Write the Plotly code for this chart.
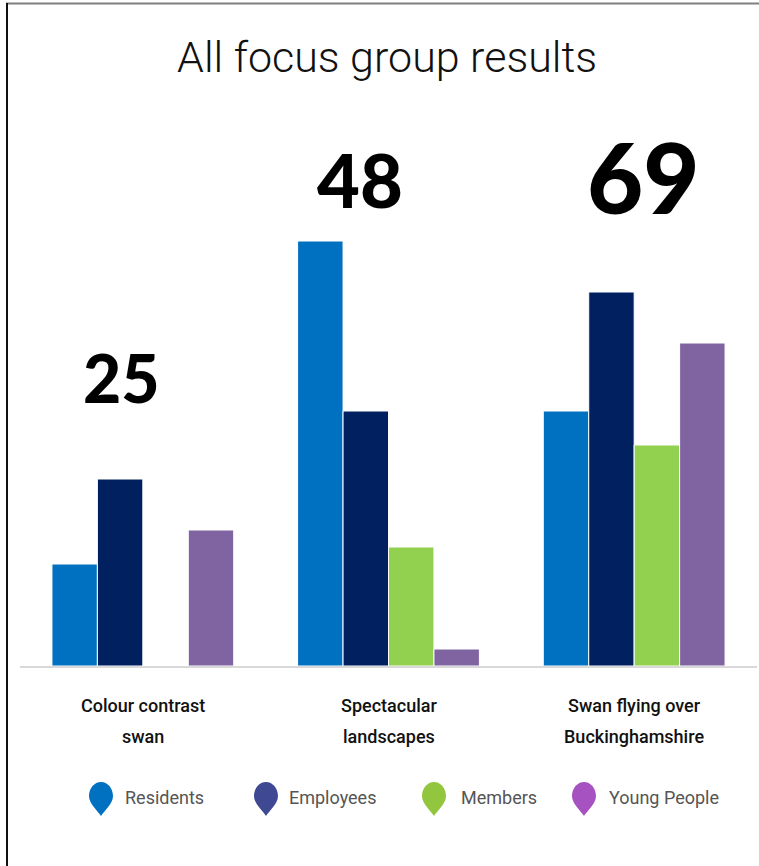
import plotly.graph_objects as go

# ---- data ----
categories = ["Colour contrast<br>swan", "Spectacular<br>landscapes", "Swan flying over<br>Buckinghamshire"]
series_names = ["Residents", "Employees", "Members", "Young People"]
residents = [6, 25, 15]
employees = [11, 15, 22]
members = [0, 7, 13]
young_people = [8, 1, 19]

bar_colors = ["#0070C0", "#002060", "#92D050", "#8064A2"]
legend_colors = ["#0070C0", "#3F4893", "#93C63F", "#A652C0"]

series_values = [residents, employees, members, young_people]
totals = [sum(v) for v in zip(*series_values)]

W, H = 759, 866


def px(x):
    return x / W


def py(y):
    return 1 - y / H


fig = go.Figure()
for name, vals, col in zip(series_names, series_values, bar_colors):
    fig.add_bar(
        x=categories, y=vals, name=name,
        marker=dict(color=col, line=dict(color="white", width=1)),
    )

annotations = []

# big totals above each group
total_style = [(-21, 378, 66), (-29, 180, 74), (9, 177, 97)]
for cat, tot, (dx, yc, size) in zip(categories, totals, total_style):
    annotations.append(dict(
        x=cat, xref="x", xshift=dx, y=py(yc), yref="paper",
        text=str(tot), showarrow=False, xanchor="center", yanchor="middle",
        font=dict(family="Lato", size=size, color="#000000", weight=900),
    ))

# two-line category labels under the axis
for cat in categories:
    for line, yc in zip(cat.split("<br>"), [705, 736]):
        annotations.append(dict(
            x=cat, xref="x", y=py(yc), yref="paper", text=line,
            showarrow=False, xanchor="center", yanchor="middle",
            font=dict(family="Roboto", size=18, color="#111111", weight=500),
        ))

# title
annotations.append(dict(
    x=px(387), y=py(57), xref="paper", yref="paper", text="All focus group results",
    showarrow=False, xanchor="center", yanchor="middle",
    font=dict(family="Roboto", size=43, color="#111111", weight=300),
))

shapes = []


def pin_path(cx, cy, r=12, ry=14, tip=20):
    k = 0.5523
    pts = [
        ("M", [(cx, cy + tip)]),
        ("C", [(cx - 3, cy + tip - 5), (cx - r, cy + 8), (cx - r, cy)]),
        ("C", [(cx - r, cy - k * ry), (cx - k * r, cy - ry), (cx, cy - ry)]),
        ("C", [(cx + k * r, cy - ry), (cx + r, cy - k * ry), (cx + r, cy)]),
        ("C", [(cx + r, cy + 8), (cx + 3, cy + tip - 5), (cx, cy + tip)]),
    ]
    parts = []
    for cmd, ps in pts:
        parts.append(cmd + " " + " ".join(f"{px(a):.5f},{py(b):.5f}" for a, b in ps))
    return " ".join(parts) + " Z"


# custom legend: pin markers with labels
legend_pos = [(101, 123), (266, 287), (434, 459), (584, 607)]
for name, col, (cx, tx) in zip(series_names, legend_colors, legend_pos):
    shapes.append(dict(type="path", xref="paper", yref="paper", path=pin_path(cx, 796),
                       fillcolor=col, line=dict(width=0)))
    annotations.append(dict(
        x=px(tx), y=py(797), xref="paper", yref="paper", text=name,
        showarrow=False, xanchor="left", yanchor="middle",
        font=dict(family="Roboto", size=18, color="#555555"),
    ))

# frame lines
shapes.append(dict(type="line", xref="paper", yref="paper", x0=px(6), x1=1, y0=py(3.5), y1=py(3.5),
                   line=dict(color="#7f7f7f", width=2)))
shapes.append(dict(type="line", xref="paper", yref="paper", x0=px(7), x1=px(7), y0=py(3), y1=0,
                   line=dict(color="#111111", width=2)))

fig.update_layout(
    width=W, height=H,
    margin=dict(l=0, r=0, t=0, b=0),
    paper_bgcolor="white", plot_bgcolor="white",
    barmode="group", bargap=0.26, bargroupgap=0,
    showlegend=False,
    xaxis=dict(domain=[px(20), px(757)], showline=True, linecolor="#d9d9d9", linewidth=2,
               showticklabels=False, ticks="", showgrid=False, zeroline=False, fixedrange=True),
    yaxis=dict(domain=[py(666), py(100)], range=[0, 566 / 17], visible=False,
               showgrid=False, zeroline=False, fixedrange=True),
    annotations=annotations,
    shapes=shapes,
)

fig.write_html("out.html")
